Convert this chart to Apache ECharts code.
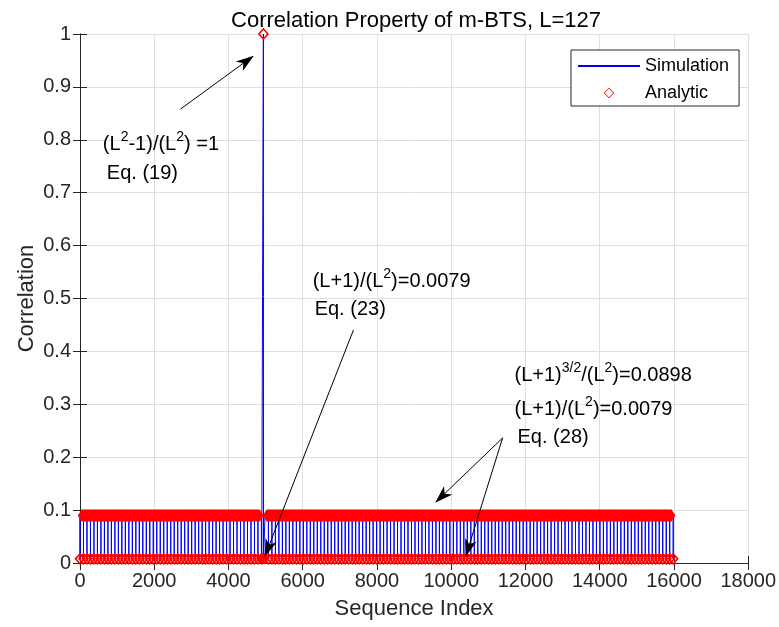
<!DOCTYPE html>
<html>
<head>
<meta charset="utf-8">
<script src="https://cdn.jsdelivr.net/npm/echarts@6/dist/echarts.min.js"></script>
<style>
  html, body { margin: 0; padding: 0; background: #ffffff; }
  #chart { width: 779px; height: 627px; }
</style>
</head>
<body>
<div id="chart"></div>
<script>
// Correlation property of an m-BTS sequence, L = 127

const FONT = '"Liberation Sans", Arial, Helvetica, sans-serif';

// axis ticks
const xTickValues = [0, 2000, 4000, 6000, 8000, 10000, 12000, 14000, 16000, 18000];
const yTickValues = [0, 0.1, 0.2, 0.3, 0.4, 0.5, 0.6, 0.7, 0.8, 0.9, 1];

// correlation levels
const PEAK_LEVEL = 1;        // (L^2-1)/(L^2)
const HIGH_LEVEL = 0.0898;   // (L+1)^(3/2)/(L^2)
const LOW_LEVEL = 0.0079;    // (L+1)/(L^2)

// in-phase peak
const peakIndex = 4940;

// indices where the correlation drops to the low level
const stemIndex = [
  0, 94, 188, 282, 376, 470, 564, 658, 752, 846,
  940, 1034, 1128, 1222, 1316, 1410, 1504, 1598, 1692, 1786,
  1880, 1974, 2068, 2162, 2256, 2350, 2444, 2538, 2632, 2726,
  2820, 2914, 3008, 3102, 3196, 3290, 3384, 3478, 3572, 3666,
  3760, 3854, 3948, 4042, 4136, 4230, 4324, 4418, 4512, 4606,
  4700, 4794, 4888, 5076, 5170, 5264, 5358, 5452, 5546,
  5640, 5734, 5828, 5922, 6016, 6110, 6204, 6298, 6392, 6486,
  6580, 6674, 6768, 6862, 6956, 7050, 7144, 7238, 7332, 7426,
  7520, 7614, 7708, 7802, 7896, 7990, 8084, 8178, 8272, 8366,
  8460, 8554, 8648, 8742, 8836, 8930, 9024, 9118, 9212, 9306,
  9400, 9494, 9588, 9682, 9776, 9870, 9964, 10058, 10152, 10246,
  10340, 10434, 10528, 10622, 10716, 10810, 10904, 10998, 11092, 11186,
  11280, 11374, 11468, 11562, 11656, 11750, 11844, 11938, 12032, 12126,
  12220, 12314, 12408, 12502, 12596, 12690, 12784, 12878, 12972, 13066,
  13160, 13254, 13348, 13442, 13536, 13630, 13724, 13818, 13912, 14006,
  14100, 14194, 14288, 14382, 14476, 14570, 14664, 14758, 14852, 14946,
  15040, 15134, 15228, 15322, 15416, 15510, 15604, 15698, 15792, 15886, 15980
];

// low-level samples right beside the peak
const peakLowIndex = [4895, 4910, 4925, 4936, 4944, 4955, 4970, 4985];

// indices sitting on the high level
const highIndex = [
  47, 141, 235, 329, 423, 517, 611, 705, 799, 893,
  987, 1081, 1175, 1269, 1363, 1457, 1551, 1645, 1739, 1833,
  1927, 2021, 2115, 2209, 2303, 2397, 2491, 2585, 2679, 2773,
  2867, 2961, 3055, 3149, 3243, 3337, 3431, 3525, 3619, 3713,
  3807, 3901, 3995, 4089, 4183, 4277, 4371, 4465, 4559, 4653,
  4747, 4841, 5029, 5123, 5217, 5311, 5405, 5499, 5593,
  5687, 5781, 5875, 5969, 6063, 6157, 6251, 6345, 6439, 6533,
  6627, 6721, 6815, 6909, 7003, 7097, 7191, 7285, 7379, 7473,
  7567, 7661, 7755, 7849, 7943, 8037, 8131, 8225, 8319, 8413,
  8507, 8601, 8695, 8789, 8883, 8977, 9071, 9165, 9259, 9353,
  9447, 9541, 9635, 9729, 9823, 9917, 10011, 10105, 10199, 10293,
  10387, 10481, 10575, 10669, 10763, 10857, 10951, 11045, 11139, 11233,
  11327, 11421, 11515, 11609, 11703, 11797, 11891, 11985, 12079, 12173,
  12267, 12361, 12455, 12549, 12643, 12737, 12831, 12925, 13019, 13113,
  13207, 13301, 13395, 13489, 13583, 13677, 13771, 13865, 13959, 14053,
  14147, 14241, 14335, 14429, 14523, 14617, 14711, 14805, 14899, 14993,
  15087, 15181, 15275, 15369, 15463, 15557, 15651, 15745, 15839, 15933
];

// annotation arrows: [fromIndex, fromCorr, toIndex, toCorr]
const arrowSpecs = [
  [2705, 0.858, 4661, 0.958],
  [7366, 0.4405, 4982, 0.0132],
  [11384, 0.2363, 9589, 0.1153],
  [11384, 0.2363, 10393, 0.0132]
];

// annotation text lines: [text, index, corr] (left edge, vertical middle)
const noteLines = [
  ['(L{s|2}-1)/(L{s|2}) =1', 616, 0.792],
  ['Eq. (19)', 723, 0.737],
  ['(L+1)/(L{s|2})=0.0079', 6268, 0.533],
  ['Eq. (23)', 6321, 0.480],
  ['(L+1){s|3/2}/(L{s|2})=0.0898', 11705, 0.355],
  ['(L+1)/(L{s|2})=0.0079', 11705, 0.291],
  ['Eq. (28)', 11786, 0.238]
];

// ---- build series data ----
const simBlocks = stemIndex.map(x => [[x, HIGH_LEVEL], [x, LOW_LEVEL], [x, HIGH_LEVEL]]);
const peakBlock = [];
peakLowIndex.forEach(x => { if (x < peakIndex) peakBlock.push([x, LOW_LEVEL]); });
peakBlock.push([peakIndex, PEAK_LEVEL]);
peakLowIndex.forEach(x => { if (x > peakIndex) peakBlock.push([x, LOW_LEVEL]); });
peakBlock.push([peakLowIndex[peakLowIndex.length - 1], HIGH_LEVEL]);
simBlocks.push(peakBlock);
simBlocks.sort((a, b) => a[0][0] - b[0][0]);
const simPoints = [];
simBlocks.forEach(b => b.forEach(p => simPoints.push(p)));

const analyticLow = stemIndex.map(x => [x, LOW_LEVEL]);
analyticLow.push([peakIndex, PEAK_LEVEL]);
analyticLow.sort((a, b) => a[0] - b[0]);

const analyticHigh = [];
highIndex.forEach((x, i) => {
  if (i > 0 && highIndex[i - 1] < peakIndex && x > peakIndex) analyticHigh.push([peakIndex, '-']);
  analyticHigh.push([x, HIGH_LEVEL]);
});

const analyticPeakLow = peakLowIndex.map(x => [x, LOW_LEVEL]);

const AXIS_COLOR = '#262626';
const GRID_COLOR = '#dfdfdf';
const ARROW_HEAD = 'path://M6,0 L12,18 L6,13 L0,18 Z';

const chart = echarts.init(document.getElementById('chart'), null, { renderer: 'canvas' });

const boxAxisCommon = {
  axisLine: { show: true, lineStyle: { color: AXIS_COLOR, width: 1 } },
  axisTick: { show: true, inside: true, length: 7, lineStyle: { color: AXIS_COLOR } },
  axisLabel: { show: false },
  splitLine: { show: false }
};

chart.setOption({
  animation: false,
  backgroundColor: '#ffffff',
  title: {
    text: 'Correlation Property of m-BTS, L=127',
    left: 416,
    top: 9,
    padding: 0,
    textAlign: 'center',
    textStyle: { fontFamily: FONT, fontSize: 22, fontWeight: 'normal', color: '#000000', lineHeight: 24 }
  },
  grid: { left: 80, right: 27, top: 34, bottom: 64, containLabel: false },
  legend: {
    data: [
      { name: 'Simulation', itemStyle: { opacity: 0 } },
      { name: 'Analytic', lineStyle: { opacity: 0 } }
    ],
    orient: 'vertical',
    left: 571,
    top: 50,
    padding: [6, 10, 3, 6],
    itemGap: 7,
    itemWidth: 62,
    itemHeight: 12,
    backgroundColor: '#ffffff',
    borderColor: AXIS_COLOR,
    borderWidth: 1,
    borderRadius: 0,
    selectedMode: false,
    itemStyle: { borderWidth: 1 },
    textStyle: { fontFamily: FONT, fontSize: 18, color: '#000000', lineHeight: 20 }
  },
  xAxis: [
    {
      type: 'value',
      min: xTickValues[0],
      max: xTickValues[xTickValues.length - 1],
      interval: xTickValues[1] - xTickValues[0],
      name: 'Sequence Index',
      nameLocation: 'middle',
      nameGap: 35,
      nameMoveOverlap: false,
      nameTextStyle: { fontFamily: FONT, fontSize: 22, color: AXIS_COLOR },
      axisLine: { show: true, onZero: false, lineStyle: { color: AXIS_COLOR, width: 1 } },
      axisTick: { show: true, inside: true, length: 7, lineStyle: { color: AXIS_COLOR } },
      axisLabel: { fontFamily: FONT, fontSize: 20, color: AXIS_COLOR, margin: 8, formatter: v => String(v) },
      splitLine: { show: true, lineStyle: { color: GRID_COLOR, width: 1 } }
    },
    Object.assign({
      type: 'value', position: 'top',
      min: xTickValues[0], max: xTickValues[xTickValues.length - 1],
      interval: xTickValues[1] - xTickValues[0]
    }, boxAxisCommon)
  ],
  yAxis: [
    {
      type: 'value',
      min: yTickValues[0],
      max: yTickValues[yTickValues.length - 1],
      interval: 0.1,
      name: 'Correlation',
      nameLocation: 'middle',
      nameGap: 42,
      nameMoveOverlap: false,
      nameTextStyle: { fontFamily: FONT, fontSize: 22, color: AXIS_COLOR },
      axisLine: { show: true, onZero: false, lineStyle: { color: AXIS_COLOR, width: 1 } },
      axisTick: { show: true, inside: true, length: 7, lineStyle: { color: AXIS_COLOR } },
      axisLabel: { fontFamily: FONT, fontSize: 20, color: AXIS_COLOR, margin: 9, formatter: v => String(+v.toFixed(1)) },
      splitLine: { show: true, lineStyle: { color: GRID_COLOR, width: 1 } }
    },
    Object.assign({
      type: 'value', position: 'right',
      min: yTickValues[0], max: yTickValues[yTickValues.length - 1], interval: 0.1
    }, boxAxisCommon)
  ],
  series: [
    {
      name: 'Simulation',
      type: 'line',
      data: simPoints,
      symbol: 'none',
      silent: true,
      z: 2,
      lineStyle: { color: '#0000ff', width: 1 },
      itemStyle: { color: '#0000ff' }
    },
    {
      name: 'Analytic',
      type: 'line',
      data: analyticLow,
      symbol: 'diamond',
      symbolSize: [9, 10],
      showSymbol: true,
      silent: true,
      z: 3,
      clip: false,
      lineStyle: { color: '#ff0000', width: 0, opacity: 0 },
      itemStyle: { color: 'rgba(255,255,255,0)', borderColor: '#ff0000', borderWidth: 1.6 }
    },
    {
      name: 'Analytic',
      type: 'line',
      data: analyticHigh,
      symbol: 'diamond',
      symbolSize: [8, 12],
      showSymbol: true,
      silent: true,
      z: 3,
      lineStyle: { color: '#ff0000', width: 12, cap: 'butt' },
      itemStyle: { color: '#ff0000' }
    },
    {
      name: 'Analytic',
      type: 'line',
      data: analyticPeakLow,
      symbol: 'diamond',
      symbolSize: [9, 11],
      showSymbol: true,
      silent: true,
      z: 3,
      lineStyle: { color: '#ff0000', width: 6 },
      itemStyle: { color: '#ff0000' }
    },
    {
      name: 'annotations',
      type: 'line',
      data: [],
      silent: true,
      z: 5,
      markLine: {
        silent: true,
        animation: false,
        symbol: ['none', ARROW_HEAD],
        symbolSize: [12, 18],
        label: { show: false },
        emphasis: { disabled: true },
        lineStyle: { color: '#000000', width: 1, type: 'solid' },
        data: arrowSpecs.map(a => [
          { coord: [a[0], a[1]], symbol: 'none' },
          { coord: [a[2], a[3]], symbol: ARROW_HEAD, symbolSize: [12, 18], symbolOffset: [0, 8] }
        ])
      }
    }
  ]
});

// annotation text placed in data coordinates
const noteGraphics = noteLines.map(n => {
  const p = chart.convertToPixel({ xAxisIndex: 0, yAxisIndex: 0 }, [n[1], n[2]]);
  return {
    type: 'text',
    x: p[0],
    y: p[1],
    silent: true,
    z: 10,
    style: {
      text: n[0],
      fontFamily: FONT,
      fontSize: 20,
      lineHeight: 28,
      fill: '#000000',
      align: 'left',
      verticalAlign: 'middle',
      rich: {
        s: { fontFamily: FONT, fontSize: 14, lineHeight: 8, verticalAlign: 'top', fill: '#000000' }
      }
    }
  };
});
chart.setOption({ graphic: noteGraphics });
</script>
</body>
</html>
